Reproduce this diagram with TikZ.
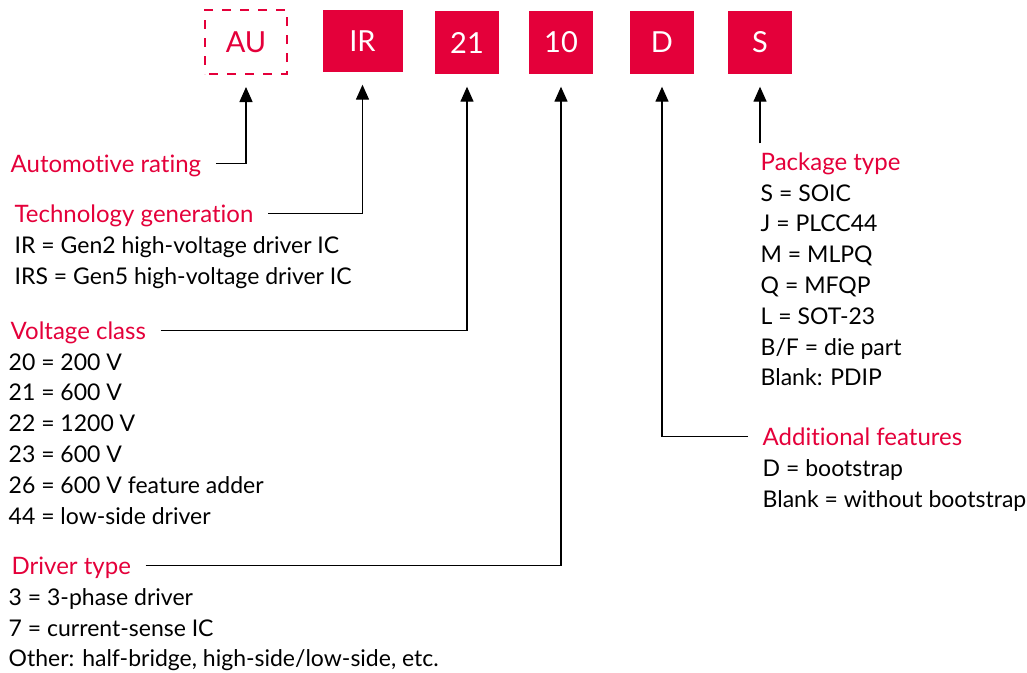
\documentclass[tikz,border=0pt]{standalone}
\usepackage{fontspec}
\setmainfont{Lato}[Ligatures=NoCommon]
\usetikzlibrary{arrows.meta,positioning,calc}
\definecolor{partred}{HTML}{E4003A}

\begin{document}
\begin{tikzpicture}[
    x=1pt, y=-1pt,
    >={Triangle[length=15pt,width=13pt]},
    line width=1.4pt,
    code/.style={fill=partred, text=white, inner sep=0,
        font=\fontsize{29}{29}\selectfont,
        minimum width=64pt, minimum height=63pt},
    optional/.style={code, fill=none, text=partred, draw=partred,
        line width=2pt, dash pattern=on 9pt off 9pt, dash phase=-4pt},
    title/.style={text=partred, inner sep=0, anchor=base west,
        font=\fontsize{24}{31}\selectfont, text height=17pt, text depth=0pt},
    items/.style={inner sep=0, align=left,
        font=\fontsize{23}{30.8}\selectfont},
    lead/.style={->, shorten >=12pt, shorten <=14pt}
]
\useasboundingbox (0,0) rectangle (1027,672);

% -------------------------------------------------
% Part number fields
% -------------------------------------------------

\node[optional, minimum width=82pt, minimum height=64pt] (au) at (246,42) {AU};
\node[code, minimum width=80pt, minimum height=62pt] (ir) at (362.5,41) {IR};
\node[code] (volt) at (467,42.5) {21};
\node[code] (drv)  at (561,42.5) {10};
\node[code] (feat) at (662,42.5) {D};
\node[code] (pkg)  at (760,42.5) {S};

% -------------------------------------------------
% Left side: descriptions
% -------------------------------------------------

\node[title] (autoTitle) at (10,172) {Automotive rating};

\node[title] (techTitle) at (14,222) {Technology generation};
\node[items, below right=13pt and 0pt of techTitle.south west] (techList)
    {IR = Gen2 high-voltage driver IC\\
     IRS = Gen5 high-voltage driver IC};

\node[title] (voltTitle) at (10,339) {Voltage class};
\node[items, below right=13pt and -2pt of voltTitle.south west] (voltList)
    {20 = 200 V\\
     21 = 600 V\\
     22 = 1200 V\\
     23 = 600 V\\
     26 = 600 V feature adder\\
     44 = low-side driver};

\node[title] (drvTitle) at (11,574) {Driver type};
\node[items, below right=13pt and -3pt of drvTitle.south west] (drvList)
    {3 = 3-phase driver\\
     7 = current-sense IC\\
     Other: half-bridge, high-side/low-side, etc.};

% -------------------------------------------------
% Right side: descriptions
% -------------------------------------------------

\node[title] (pkgTitle) at (760,170) {Package type};
\node[items, below right=13pt and 0pt of pkgTitle.south west] (pkgList)
    {S = SOIC\\
     J = PLCC44\\
     M = MLPQ\\
     Q = MFQP\\
     L = SOT-23\\
     B/F = die part\\
     Blank: PDIP};

\node[title] (featTitle) at (762,445) {Additional features};
\node[items, below right=13pt and 0pt of featTitle.south west] (featList)
    {D = bootstrap\\
     Blank = without bootstrap};

% -------------------------------------------------
% Leaders
% -------------------------------------------------

\draw[lead] (autoTitle.east) -| (au.south);
\draw[lead] (techTitle.east) -| (ir.south);
\draw[lead] (voltTitle.east) -| (volt.south);
\draw[lead] (drvTitle.east)  -| (drv.south);
\draw[lead] (featTitle.west) -| (feat.south);
\draw[lead, shorten <=9pt] (pkgTitle.north -| pkg.south) -- (pkg.south);

\end{tikzpicture}
\end{document}
